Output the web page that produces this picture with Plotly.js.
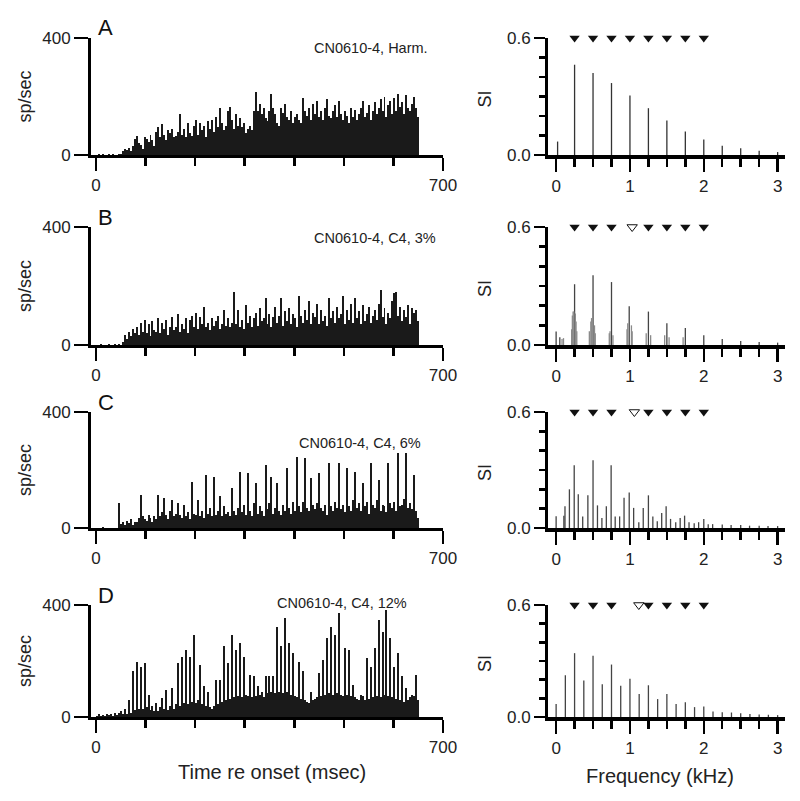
<!DOCTYPE html>
<html>
<head>
<meta charset="utf-8">
<script src="https://cdn.plot.ly/plotly-3.0.1.min.js"></script>
<style>html,body{margin:0;padding:0;background:#fff;}#chart{width:800px;height:801px;}</style>
</head>
<body>
<div id="chart"></div>
<script>
// ---------- DATA ----------
const BIN_MS = 4; // PSTH bin width (ms), bins start at 0 ms
const panelLetters = ["A", "B", "C", "D"];
const panelLabels = ["CN0610-4, Harm.", "CN0610-4, C4, 3%", "CN0610-4, C4, 6%", "CN0610-4, C4, 12%"];

const psthA = [
  0,2,0,3,0,0,4,0,2,0,  0,2,4,15,22,18,25,12,30,55,
  65,40,35,20,60,55,45,70,50,30,  80,95,60,105,70,50,85,75,90,60,
  65,80,140,70,90,60,110,75,65,100,  120,70,110,85,100,60,115,90,120,80,
  130,95,160,110,85,100,150,165,120,90,  140,100,125,95,110,75,90,100,85,150,
  215,150,175,140,160,125,115,150,210,160,  140,110,100,160,145,175,130,120,150,110,
  130,140,120,110,195,150,135,160,120,175,  140,185,130,150,120,160,190,135,125,150,
  170,130,185,140,120,150,135,110,160,130,  155,120,140,160,185,130,145,170,120,150,
  180,140,160,190,150,200,130,170,185,140,  195,150,210,165,180,140,205,160,150,175,
  200,160,130];
const psthB = [
  0,0,2,0,0,0,3,0,0,2,  0,3,0,10,35,20,45,30,55,40,
  60,35,75,45,85,40,70,30,80,50,  45,90,40,75,55,85,35,60,95,50,
  60,105,45,70,55,90,40,85,100,60,  110,55,95,70,130,60,75,50,90,65,
  80,100,55,70,120,65,90,60,75,180,  70,120,60,85,55,135,75,100,60,90,
  110,65,125,80,90,160,70,105,60,95,  130,75,100,160,65,115,80,125,70,105,
  90,60,165,100,75,120,85,150,70,110,  95,140,70,120,80,100,65,160,90,115,
  75,130,90,105,165,70,120,85,140,75,  160,90,115,70,135,80,105,130,75,100,
  120,85,140,186,95,125,70,110,90,150,  175,180,100,130,80,120,95,135,70,125,
  110,120,80];
const psthC = [
  0,0,0,2,0,0,0,0,0,0,  0,86,15,20,10,25,18,30,12,22,
  20,35,114,40,30,25,45,35,20,40,  30,114,40,55,103,45,30,60,97,40,
  50,86,45,35,80,40,55,30,160,50,  45,97,40,60,35,183,50,70,40,177,
  45,60,109,40,75,50,55,40,137,60,  45,70,194,55,80,45,189,60,40,85,
  154,50,75,60,40,217,65,85,177,50,  70,154,60,45,80,60,206,70,50,90,
  60,246,75,55,90,240,70,60,171,80,  65,85,189,70,60,80,45,223,75,60,
  90,70,223,65,80,55,206,75,60,95,  194,70,85,60,154,75,90,50,223,80,
  70,95,166,60,80,75,55,223,85,70,  90,60,257,75,80,100,257,70,85,65,
  183,60,34];
const psthD = [
  5,12,3,8,4,10,6,12,5,15,  8,14,20,10,30,12,62,15,163,25,
  198,30,180,28,192,35,80,25,40,20,  50,22,35,68,30,95,25,40,103,30,
  45,192,40,216,50,240,45,216,55,293,  50,60,186,45,109,40,91,35,30,40,
  133,45,133,55,252,60,192,65,293,70,  240,75,264,70,216,80,75,151,70,145,
  75,109,80,90,70,145,85,145,90,145,  85,323,90,252,85,352,90,264,80,228,
  75,70,198,65,163,60,55,50,91,60,  65,70,157,75,204,80,281,85,323,80,
  293,85,370,80,75,246,80,240,75,115,  70,65,60,80,75,60,210,65,180,70,
  246,75,347,70,305,80,382,75,281,70,  180,65,228,60,145,55,103,60,70,80,
  75,151,60];

// Synchronization index spectra (frequency kHz, SI)
const freqA = [0.02,0.25,0.5,0.75,1.0,1.25,1.5,1.75,2.0,2.25,2.5,2.75,3.0];
const siA   = [0.069,0.463,0.42,0.369,0.305,0.24,0.177,0.12,0.08,0.048,0.034,0.022,0.015];

const freqB = [0.0,0.05,0.25,0.5,0.75,0.99,1.25,1.5,1.75,2.0,2.25,2.5,2.75,3.0];
const siB   = [0.069,0.04,0.309,0.355,0.32,0.197,0.17,0.11,0.086,0.05,0.03,0.02,0.015,0.012];
const freqBside = [0.08,0.1,0.21,0.22,0.23,0.24,0.26,0.27,0.28,0.45,0.47,0.48,0.52,0.53,0.72,0.73,0.77,0.96,0.97,1.02,1.03,1.22,1.28,1.47,1.53,1.72];
const siBside   = [0.03,0.035,0.08,0.15,0.17,0.17,0.16,0.12,0.07,0.07,0.12,0.137,0.1,0.06,0.06,0.07,0.05,0.08,0.11,0.1,0.07,0.06,0.05,0.05,0.04,0.04];

const freqC = [0,0.105,0.12,0.18,0.245,0.3,0.36,0.43,0.5,0.56,0.62,0.68,0.745,0.8,0.86,0.92,0.99,1.05,1.12,1.18,1.25,1.31,1.37,1.43,1.49,1.55,1.62,1.68,1.74,1.8,1.87,1.93,2.0,2.06,2.12,2.25,2.37,2.5,2.62,2.75,2.87,3.0];
const siC   = [0.061,0.064,0.113,0.2,0.325,0.174,0.06,0.169,0.351,0.117,0.052,0.113,0.325,0.06,0.06,0.157,0.183,0.104,0.03,0.104,0.169,0.06,0.035,0.078,0.113,0.047,0.03,0.052,0.064,0.03,0.025,0.03,0.047,0.02,0.02,0.018,0.015,0.015,0.012,0.012,0.01,0.01];

const freqD = [0,0.125,0.25,0.375,0.5,0.625,0.75,0.875,1.0,1.125,1.25,1.375,1.5,1.625,1.75,1.875,2.0,2.125,2.25,2.375,2.5,2.625,2.75,2.875,3.0];
const siD   = [0.07,0.223,0.342,0.196,0.328,0.175,0.281,0.167,0.205,0.123,0.17,0.096,0.123,0.07,0.079,0.053,0.056,0.03,0.026,0.024,0.02,0.016,0.014,0.012,0.01];

// harmonic markers (kHz): filled = harmonic, open = mistuned 4th component
const filledA = [0.25,0.5,0.75,1.0,1.25,1.5,1.75,2.0];
const openA   = [];
const filledB = [0.25,0.5,0.75,1.25,1.5,1.75,2.0];
const openB   = [1.03];
const filledC = [0.25,0.5,0.75,1.25,1.5,1.75,2.0];
const openC   = [1.06];
const filledD = [0.25,0.5,0.75,1.25,1.5,1.75,2.0];
const openD   = [1.12];
const MARK_LEVEL = 0.6;

const psthTicks = [0, 700];
const siXTicks = [0, 1, 2, 3];
const siYTicks = [0, 0.6];
const siYTickText = ["0.0", "0.6"];
const rateTicks = [0, 400];

// ---------- BUILD ----------
const W = 800, H = 801;
const FONT = "Liberation Sans, Arial, Helvetica, sans-serif";
const rowsPx = [[38,155],[227,345],[412,528],[605,717]];
const leftX = [91/W, 443/W];
const rightX = [548/W, 785/W];

const psths = [psthA, psthB, psthC, psthD];
const spectra = [[freqA, siA], [freqB, siB], [freqC, siC], [freqD, siD]];
const filled = [filledA, filledB, filledC, filledD];
const opened = [openA, openB, openC, openD];

function stems(f, s) {
  const x = [], y = [];
  f.forEach((v, i) => { x.push(v, v, null); y.push(0, s[i], null); });
  return {x, y};
}

const data = [];
const layout = {
  width: W, height: H,
  margin: {l:0, r:0, t:0, b:0},
  paper_bgcolor: "#fff", plot_bgcolor: "rgba(0,0,0,0)",
  showlegend: false, bargap: 0,
  font: {family: FONT, color: "#111"},
  annotations: []
};

function axisBase() {
  return {showgrid:false, zeroline:false, showline:true, linecolor:"#000", linewidth:3,
          ticks:"outside", tickcolor:"#000", tickwidth:2.5, fixedrange:true, layer:"above traces",
          tickfont:{family:FONT, size:17, color:"#222"}};
}
const minorStyle = {ticks:"outside", tickwidth:2.5, tickcolor:"#000"};

for (let r = 0; r < 4; r++) {
  const [top, bot] = rowsPx[r];
  const ydom = [1 - bot/H, 1 - top/H];
  const li = 2*r + 1, ri = 2*r + 2;
  const lx = "x" + (li === 1 ? "" : li), ly = "y" + (li === 1 ? "" : li);
  const rx = "x" + ri, ry = "y" + ri;

  // PSTH
  const arr = psths[r];
  data.push({type:"bar", xaxis:lx, yaxis:ly,
    x: arr.map((_, i) => i*BIN_MS + BIN_MS/2), y: arr, width: BIN_MS,
    marker:{color:"#1a1a1a", line:{width:0}}, hoverinfo:"skip"});

  // SI spectrum stems
  const st = stems(spectra[r][0], spectra[r][1]);
  data.push({type:"scatter", mode:"lines", xaxis:rx, yaxis:ry, x:st.x, y:st.y,
    line:{color: r === 0 ? "#333" : "#444", width:1.3}, hoverinfo:"skip", cliponaxis:false});
  if (r === 1) {
    const sb = stems(freqBside, siBside);
    data.push({type:"scatter", mode:"lines", xaxis:rx, yaxis:ry, x:sb.x, y:sb.y,
      line:{color:"#8a8a8a", width:1.3}, hoverinfo:"skip"});
  }
  // harmonic markers
  data.push({type:"scatter", mode:"markers", xaxis:rx, yaxis:ry,
    x: filled[r], y: filled[r].map(() => MARK_LEVEL), cliponaxis:false,
    marker:{symbol:"triangle-down", size:9, color:"#111"}, hoverinfo:"skip"});
  if (opened[r].length) {
    data.push({type:"scatter", mode:"markers", xaxis:rx, yaxis:ry,
      x: opened[r], y: opened[r].map(() => MARK_LEVEL), cliponaxis:false,
      marker:{symbol:"triangle-down-open", size:9, color:"#111", line:{width:1, color:"#111"}}, hoverinfo:"skip"});
  }

  const lxName = "xaxis" + (li === 1 ? "" : li), lyName = "yaxis" + (li === 1 ? "" : li);
  layout[lxName] = Object.assign(axisBase(), {domain:leftX, anchor:ly, range:[-10, 700],
    tickmode:"array", tickvals:psthTicks, ticklen:13,
    minor:Object.assign({tickmode:"linear", tick0:0, dtick:100, ticklen:8}, minorStyle)});
  layout[lyName] = Object.assign(axisBase(), {domain:ydom, anchor:lx, range:[0, 400],
    tickmode:"array", tickvals:rateTicks, ticklen:14});
  layout["xaxis" + ri] = Object.assign(axisBase(), {domain:rightX, anchor:ry, range:[-0.11, 3.1],
    linewidth:3.5, tickmode:"array", tickvals:siXTicks, ticklen:13,
    minor:Object.assign({tickmode:"linear", tick0:0, dtick:0.25, ticklen:8}, minorStyle)});
  layout["yaxis" + ri] = Object.assign(axisBase(), {domain:ydom, anchor:rx, range:[0, 0.6],
    tickmode:"array", tickvals:siYTicks, ticktext:siYTickText, ticklen:11,
    minor:Object.assign({tickmode:"linear", tick0:0, dtick:0.1, ticklen:6}, minorStyle)});

  const mid = (top + bot) / 2;
  // panel letter
  layout.annotations.push({xref:"paper", yref:"paper", x:96/W, y:1 - (top - 10)/H, xanchor:"left", yanchor:"middle",
    text:panelLetters[r], showarrow:false, font:{family:FONT, size:22, color:"#111"}});
  // condition label
  const labX = [312, 312, 297, 275][r], labY = [48, 238, 443, 603][r];
  layout.annotations.push({xref:"paper", yref:"paper", x:labX/W, y:1 - labY/H, xanchor:"left", yanchor:"middle",
    text:panelLabels[r], showarrow:false, font:{family:FONT, size:14.5, color:"#222"}});
  // y titles
  layout.annotations.push({xref:"paper", yref:"paper", x:25/W, y:1 - mid/H, xanchor:"center", yanchor:"middle",
    text:"sp/sec", textangle:-90, showarrow:false, font:{family:FONT, size:18, color:"#222"}});
  layout.annotations.push({xref:"paper", yref:"paper", x:485/W, y:1 - (mid + 2)/H, xanchor:"center", yanchor:"middle",
    text:"SI", textangle:-90, showarrow:false, font:{family:FONT, size:18, color:"#222"}});
}

layout.annotations.push({xref:"paper", yref:"paper", x:272/W, y:1 - 772/H, xanchor:"center", yanchor:"middle",
  text:"Time re onset (msec)", showarrow:false, font:{family:FONT, size:20, color:"#222"}});
layout.annotations.push({xref:"paper", yref:"paper", x:660/W, y:1 - 776/H, xanchor:"center", yanchor:"middle",
  text:"Frequency (kHz)", showarrow:false, font:{family:FONT, size:20, color:"#222"}});

Plotly.newPlot("chart", data, layout, {staticPlot:true, displayModeBar:false});
</script>
</body>
</html>
